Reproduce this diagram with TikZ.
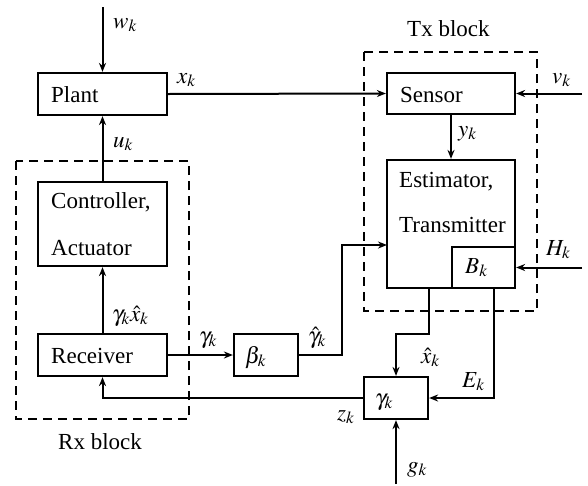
\documentclass[tikz,border=0pt]{standalone}
\usepackage{mathptmx}
\usepackage[no-math]{fontspec}
\setmainfont{Liberation Serif}
\usetikzlibrary{arrows.meta}
\tikzset{
  box/.style={draw, line width=2.2pt, inner sep=0pt},
  lbl/.style={anchor=base west, inner sep=0pt},
  arr/.style={line width=2pt, -{Stealth[length=9pt,width=7pt]}},
  frame/.style={draw, line width=2pt, dash pattern=on 9pt off 6pt}
}
\begin{document}
\begin{tikzpicture}[x=1pt,y=-1pt,font=\fontsize{23}{27}\selectfont]
\useasboundingbox (0,0) rectangle (588,485);
% frames
\draw[frame] (16,161) rectangle (189,419);
\draw[frame] (364,52) rectangle (537,311);
% boxes
\node[box, minimum width=129pt, minimum height=42pt] (plant) at (102.5,94) {};
\node[box, minimum width=129pt, minimum height=84pt] (ctrl) at (102.5,224) {};
\node[box, minimum width=129pt, minimum height=42pt] (recv) at (102.5,355) {};
\node[box, minimum width=64pt, minimum height=42pt] (beta) at (266,355) {};
\node[box, minimum width=128pt, minimum height=41pt] (sensor) at (451,93.5) {};
\node[box, minimum width=128pt, minimum height=128pt] (est) at (451,224) {};
\node[box, minimum width=63pt, minimum height=41pt] (B) at (483.5,267.5) {};
\node[box, minimum width=64pt, minimum height=42pt] (gam) at (396,398) {};
% box texts
\node[lbl] (plantT) at (51,102) {Plant};
\node[lbl] (ctrlT1) at (51,208) {Controller,};
\node[lbl] (ctrlT2) at (51,255) {Actuator};
\node[lbl] (recvT) at (51,363) {Receiver};
\node[lbl] (betaT) at (245,363) {$\beta_k$};
\node[lbl] (sensT) at (400,102) {Sensor};
\node[lbl] (estT1) at (399,187) {Estimator,};
\node[lbl] (estT2) at (399,232) {Transmitter};
\node[lbl] (BT) at (465,273) {$B_k$};
\node[lbl] (gamT) at (375,405) {$\gamma_k$};
% labels
\node[lbl] (lw) at (113,28) {$w_k$};
\node[lbl] (lx) at (177,83) {$x_k$};
\node[lbl] (lu) at (113,147) {$u_k$};
\node[lbl] (lgx) at (112,321) {$\gamma_k\hat{x}_k$};
\node[lbl] (lg1) at (199,343) {$\gamma_k$};
\node[lbl] (lgh) at (308,343) {$\hat{\gamma}_k$};
\node[lbl] (ly) at (458,136) {$y_k$};
\node[lbl] (lv) at (552,83) {$v_k$};
\node[lbl] (lH) at (546,255) {$H_k$};
\node[lbl] (lxh) at (421,363) {$\hat{x}_k$};
\node[lbl] (lE) at (462,387) {$E_k$};
\node[lbl] (lz) at (337,420) {$z_k$};
\node[lbl] (lg) at (407,472) {$g_k$};
\node[lbl] (lTx) at (407,36) {Tx block};
\node[lbl] (lRx) at (58,449) {Rx block};
% free ends
\coordinate (wtop) at (102.5,7);
\coordinate (vr) at (582,93.5);
\coordinate (Hr) at (582,267.5);
\coordinate (gbot) at (396,484);
\coordinate (bend) at (342,245);
\coordinate (estin) at (387,245);
% connectors
\draw[arr] (wtop) -- (plant.north);
\draw[arr] (plant.east) -- (sensor.west);
\draw[arr] (ctrl.north) -- (plant.south);
\draw[arr] (recv.north) -- (ctrl.south);
\draw[arr] (recv.east) -- (beta.west);
\draw[arr] (beta.east) -| (bend) -- (estin);
\draw[arr] (sensor.south) -- (est.north);
\draw[arr] (vr) -- (sensor.east);
\draw[arr] (Hr) -- (B.east);
\draw[arr] ([xshift=-22pt]est.south) -- ++(0,45) -| (gam.north);
\draw[arr] ([xshift=10.5pt]B.south) |- (gam.east);
\draw[arr] (gam.west) -| (recv.south);
\draw[arr] (gbot) -- (gam.south);
\end{tikzpicture}
\end{document}
